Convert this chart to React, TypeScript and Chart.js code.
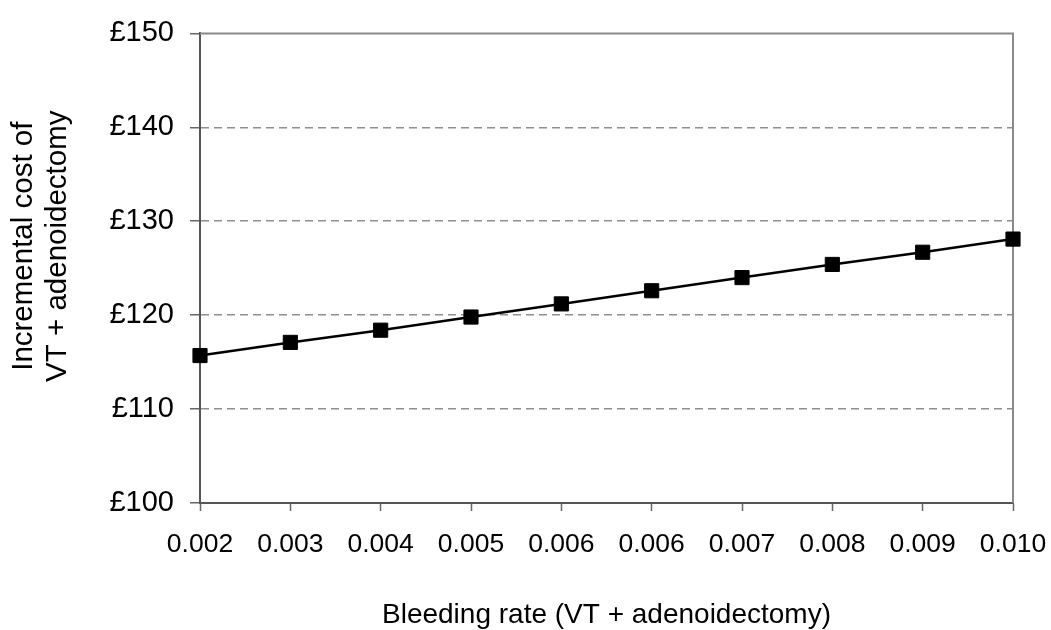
import React, { useEffect, useRef } from "react";
import { Chart, registerables } from "chart.js";

Chart.register(...registerables);

const categories = ["0.002", "0.003", "0.004", "0.005", "0.006", "0.006", "0.007", "0.008", "0.009", "0.010"];
const costValues = [115.7, 117.1, 118.4, 119.8, 121.2, 122.6, 124.0, 125.4, 126.7, 128.1];
const yMin = 100;
const yMax = 150;
const yStep = 10;
const xTitle = "Bleeding rate (VT + adenoidectomy)";
const yTitle = ["Incremental cost of", "VT + adenoidectomy"];

const FONT = "'Liberation Sans', Arial, sans-serif";

const frameBorder = {
  id: "frameBorder",
  beforeDatasetsDraw(chart: any) {
    const { ctx, chartArea } = chart;
    ctx.save();
    ctx.strokeStyle = "#8a8a8a";
    ctx.lineWidth = 2;
    ctx.beginPath();
    ctx.moveTo(chartArea.left, chartArea.top);
    ctx.lineTo(chartArea.right, chartArea.top);
    ctx.lineTo(chartArea.right, chartArea.bottom);
    ctx.stroke();
    ctx.restore();
  },
};

const yTitlePlugin = {
  id: "yTitlePlugin",
  afterDraw(chart: any) {
    const { ctx, chartArea } = chart;
    const cy = (chartArea.top + chartArea.bottom) / 2 - 22;
    const xs = [23.6, 57.4];
    ctx.save();
    ctx.fillStyle = "#000";
    ctx.font = `29.5px ${FONT}`;
    ctx.textAlign = "center";
    ctx.textBaseline = "middle";
    yTitle.forEach((line, i) => {
      ctx.save();
      ctx.translate(xs[i], cy);
      ctx.rotate(-Math.PI / 2);
      ctx.fillText(line, 0, 0);
      ctx.restore();
    });
    ctx.restore();
  },
};

export default function App() {
  const ref = useRef<HTMLCanvasElement>(null);
  useEffect(() => {
    if (!ref.current) return;
    const chart = new Chart(ref.current, {
      type: "line",
      data: {
        labels: categories,
        datasets: [
          {
            data: costValues,
            borderColor: "#000",
            borderWidth: 2.5,
            backgroundColor: "#000",
            pointStyle: "rect",
            pointRadius: 10,
            pointBorderWidth: 1,
            pointBorderColor: "#000",
            pointBackgroundColor: "#000",
            tension: 0,
            clip: false,
          } as any,
        ],
      },
      plugins: [frameBorder, yTitlePlugin],
      options: {
        animation: false,
        responsive: false,
        devicePixelRatio: 1,
        layout: { padding: { top: 32, right: 38, bottom: 0, left: 0 } },
        plugins: { legend: { display: false }, tooltip: { enabled: false } },
        scales: {
          x: {
            type: "category",
            offset: false,
            grid: {
              drawOnChartArea: false,
              drawTicks: true,
              tickLength: 8,
              tickColor: "#666",
              tickWidth: 1.5,
            },
            border: { color: "#555", width: 2 },
            ticks: {
              autoSkip: false,
              maxRotation: 0,
              minRotation: 0,
              padding: 18,
              color: "#000",
              font: { family: FONT, size: 26.5 },
            },
            title: {
              display: true,
              text: xTitle,
              color: "#000",
              font: { family: FONT, size: 28, lineHeight: 1 },
              padding: { top: 0, bottom: 1 },
            },
            afterFit(scale: any) {
              scale.height = 127;
              scale.paddingRight = 0;
              scale.paddingLeft = 0;
            },
          },
          y: {
            min: yMin,
            max: yMax,
            ticks: {
              stepSize: yStep,
              padding: 16,
              color: "#000",
              font: { family: FONT, size: 29 },
              callback: (v: any) => "£" + v,
            },
            grid: {
              color: (c: any) =>
                c.tick && (c.tick.value === yMin || c.tick.value === yMax) ? "rgba(0,0,0,0)" : "#8f8f8f",
              lineWidth: 1.5,
              drawTicks: true,
              tickLength: 10,
              tickColor: "#666",
              tickWidth: 1.5,
              tickBorderDash: [],
            } as any,
            border: { color: "#555", width: 2, dash: [8, 5] } as any,
            title: { display: false },
            afterFit(scale: any) {
              scale.width = 200;
            },
          },
        },
      },
    });
    return () => chart.destroy();
  }, []);
  return (
    <div style={{ position: "absolute", left: 0, top: 0, width: 1051, height: 630, background: "#fff" }}>
      <canvas ref={ref} width={1051} height={630} />
    </div>
  );
}
